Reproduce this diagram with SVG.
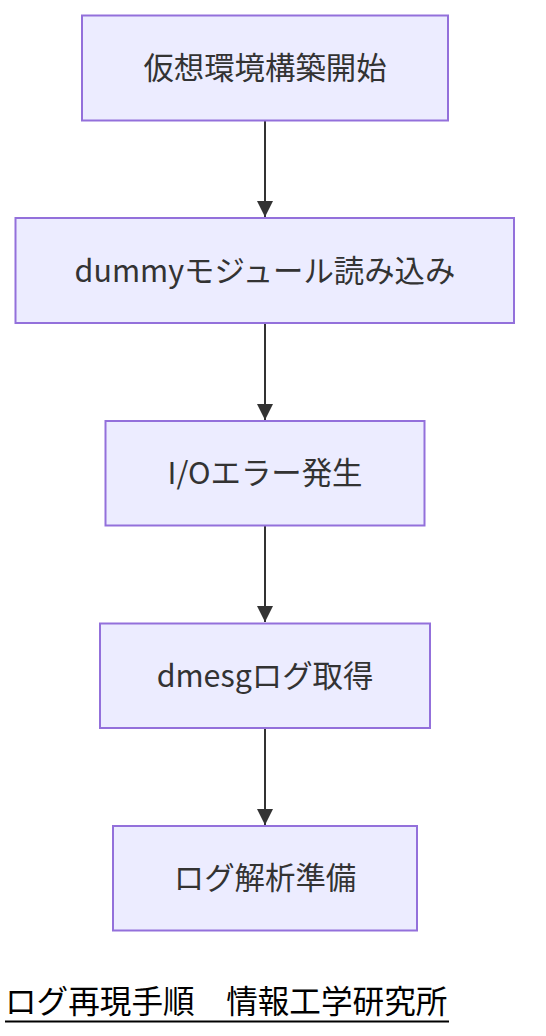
<svg xmlns="http://www.w3.org/2000/svg" width="546" height="1036" viewBox="0 0 546 1036">
<style>
.node rect{fill:#ECECFF;stroke:#9370DB;stroke-width:2}
.node text{font-family:"Noto Sans CJK JP","Noto Sans",sans-serif;font-size:30.4px;fill:#333333;text-anchor:middle;dominant-baseline:central}
.edges path{stroke:#333333;stroke-width:2;fill:none}
.title{font-family:"Noto Sans CJK JP",sans-serif;font-size:31.6px;fill:#000000}
</style>
<defs>
<marker id="arrow" viewBox="0 0 10 10" refX="10" refY="5" markerUnits="userSpaceOnUse" markerWidth="16" markerHeight="16" orient="auto">
<path d="M0,0 L10,5 L0,10 z" fill="#333333"/>
</marker>
</defs>
<rect width="546" height="1036" fill="#ffffff"/>
<g class="edges">
<path d="M265,121 L265,217" marker-end="url(#arrow)"/>
<path d="M265,324 L265,420" marker-end="url(#arrow)"/>
<path d="M265,526 L265,622" marker-end="url(#arrow)"/>
<path d="M265,729 L265,825" marker-end="url(#arrow)"/>
</g>
<g id="node1" class="node"><rect x="82" y="15.5" width="366" height="105"/><text x="265" y="66">仮想環境構築開始</text></g>
<g id="node2" class="node"><rect x="15.5" y="218" width="498.5" height="105"/><text x="265" y="268.5">dummyモジュール読み込み</text></g>
<g id="node3" class="node"><rect x="105.5" y="421" width="319" height="104.5"/><text x="265" y="471">I/Oエラー発生</text></g>
<g id="node4" class="node"><rect x="100" y="623.5" width="330" height="104.5"/><text x="265" y="674">dmesgログ取得</text></g>
<g id="node5" class="node"><rect x="113" y="826" width="304" height="104.5"/><text x="265" y="876">ログ解析準備</text></g>
<g id="title">
<text class="title" x="5" y="1013">ログ再現手順　情報工学研究所</text>
<line x1="5" y1="1021.5" x2="449" y2="1021.5" stroke="#000000" stroke-width="2"/>
</g>
</svg>
